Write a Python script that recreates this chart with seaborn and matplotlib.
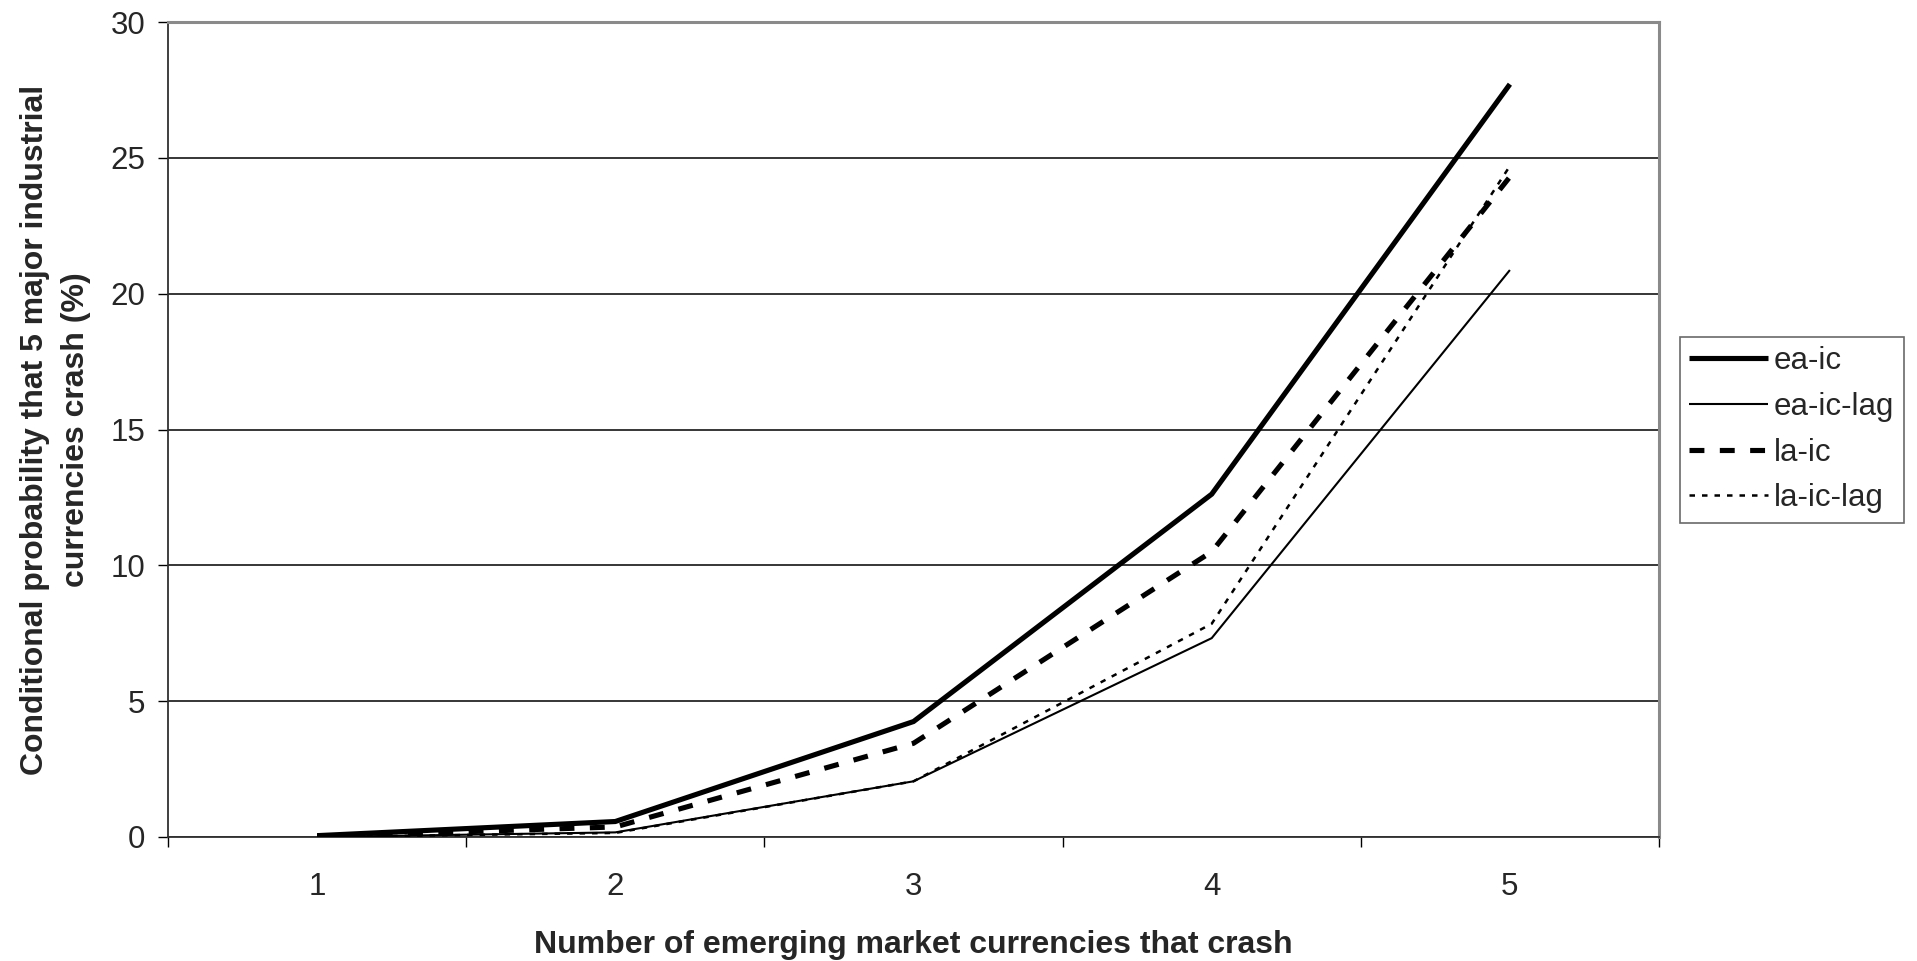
import numpy as np
import pandas as pd
import matplotlib
matplotlib.use("Agg")
import matplotlib.pyplot as plt
import seaborn as sns

# ---- data ----
categories = [1, 2, 3, 4, 5]
ea_ic = [0.05, 0.57, 4.25, 12.62, 27.71]
ea_ic_lag = [0.0, 0.17, 2.05, 7.32, 20.87]
la_ic = [0.02, 0.37, 3.45, 10.5, 24.3]
la_ic_lag = [0.0, 0.15, 2.05, 7.85, 24.7]
series_names = ["ea-ic", "ea-ic-lag", "la-ic", "la-ic-lag"]
y_ticks = [0, 5, 10, 15, 20, 25, 30]
x_label = "Number of emerging market currencies that crash"
y_label = "Conditional probability that 5 major industrial\ncurrencies crash (%)"

sns.set_theme(style="white")
plt.rcParams["font.family"] = ["Liberation Sans", "DejaVu Sans"]

W, H = 1917, 961
fig = plt.figure(figsize=(W / 100, H / 100), dpi=100)
ax = fig.add_axes([168 / W, 1 - 837 / H, (1659 - 168) / W, (837 - 22) / H])

df = pd.DataFrame({
    "x": categories * 4,
    "y": ea_ic + ea_ic_lag + la_ic + la_ic_lag,
    "series": sum([[n] * len(categories) for n in series_names], []),
})

styles = {
    "ea-ic": dict(lw=3.7, ls="-"),
    "ea-ic-lag": dict(lw=1.5, ls="-"),
    "la-ic": dict(lw=3.7, ls=(0, (2.9, 3.0))),
    "la-ic-lag": dict(lw=1.8, ls=(0, (2.2, 2.8))),
}

for name in series_names:
    sub = df[df["series"] == name]
    st = styles[name]
    sns.lineplot(data=sub, x="x", y="y", ax=ax, color="black",
                 linewidth=st["lw"], linestyle=st["ls"], label=name,
                 solid_joinstyle="miter", dash_joinstyle="miter",
                 solid_capstyle="butt", dash_capstyle="butt", zorder=3)

ax.set_xlim(0.5, 5.5)
ax.set_ylim(0, 30)

FS = 22.5

# grid
ax.set_yticks(y_ticks)
ax.yaxis.grid(True, color="black", linewidth=1.1)
ax.xaxis.grid(False)
ax.set_axisbelow(True)

# y ticks
ax.tick_params(axis="y", which="major", direction="out", length=7.2, width=1.0,
               color="black", labelsize=FS, pad=9, left=True)
ax.set_yticklabels([str(v) for v in y_ticks])

# x ticks: boundaries marked, labels at category centres
ax.set_xticks([0.5, 1.5, 2.5, 3.5, 4.5, 5.5])
ax.set_xticklabels([])
ax.set_xticks(categories, minor=True)
ax.set_xticklabels([str(c) for c in categories], minor=True)
ax.tick_params(axis="x", which="major", direction="out", length=7.2, width=1.0,
               color="black", bottom=True)
ax.tick_params(axis="x", which="minor", length=0, labelsize=FS, pad=25, bottom=True)

# spines
for s in ["left", "bottom"]:
    ax.spines[s].set_color("#303030")
    ax.spines[s].set_linewidth(1.3)
for s in ["top", "right"]:
    ax.spines[s].set_color("#8a8a8a")
    ax.spines[s].set_linewidth(2.2)
    ax.spines[s].set_visible(True)

ax.set_xlabel(x_label, fontsize=23, fontweight="bold", labelpad=20)
ax.set_ylabel(y_label, fontsize=23, fontweight="bold", labelpad=14, linespacing=1.5)

leg = ax.legend(loc="upper left", bbox_to_anchor=(1680 / W, 1 - 337 / H),
                bbox_transform=fig.transFigure, borderaxespad=0, frameon=True,
                fancybox=False, fontsize=FS, handlelength=2.5, handletextpad=0.2,
                labelspacing=0.5, borderpad=0.3)
leg.get_frame().set_edgecolor("#444444")
leg.get_frame().set_linewidth(1.2)

fig.savefig("out.png", dpi=100, facecolor="white")
